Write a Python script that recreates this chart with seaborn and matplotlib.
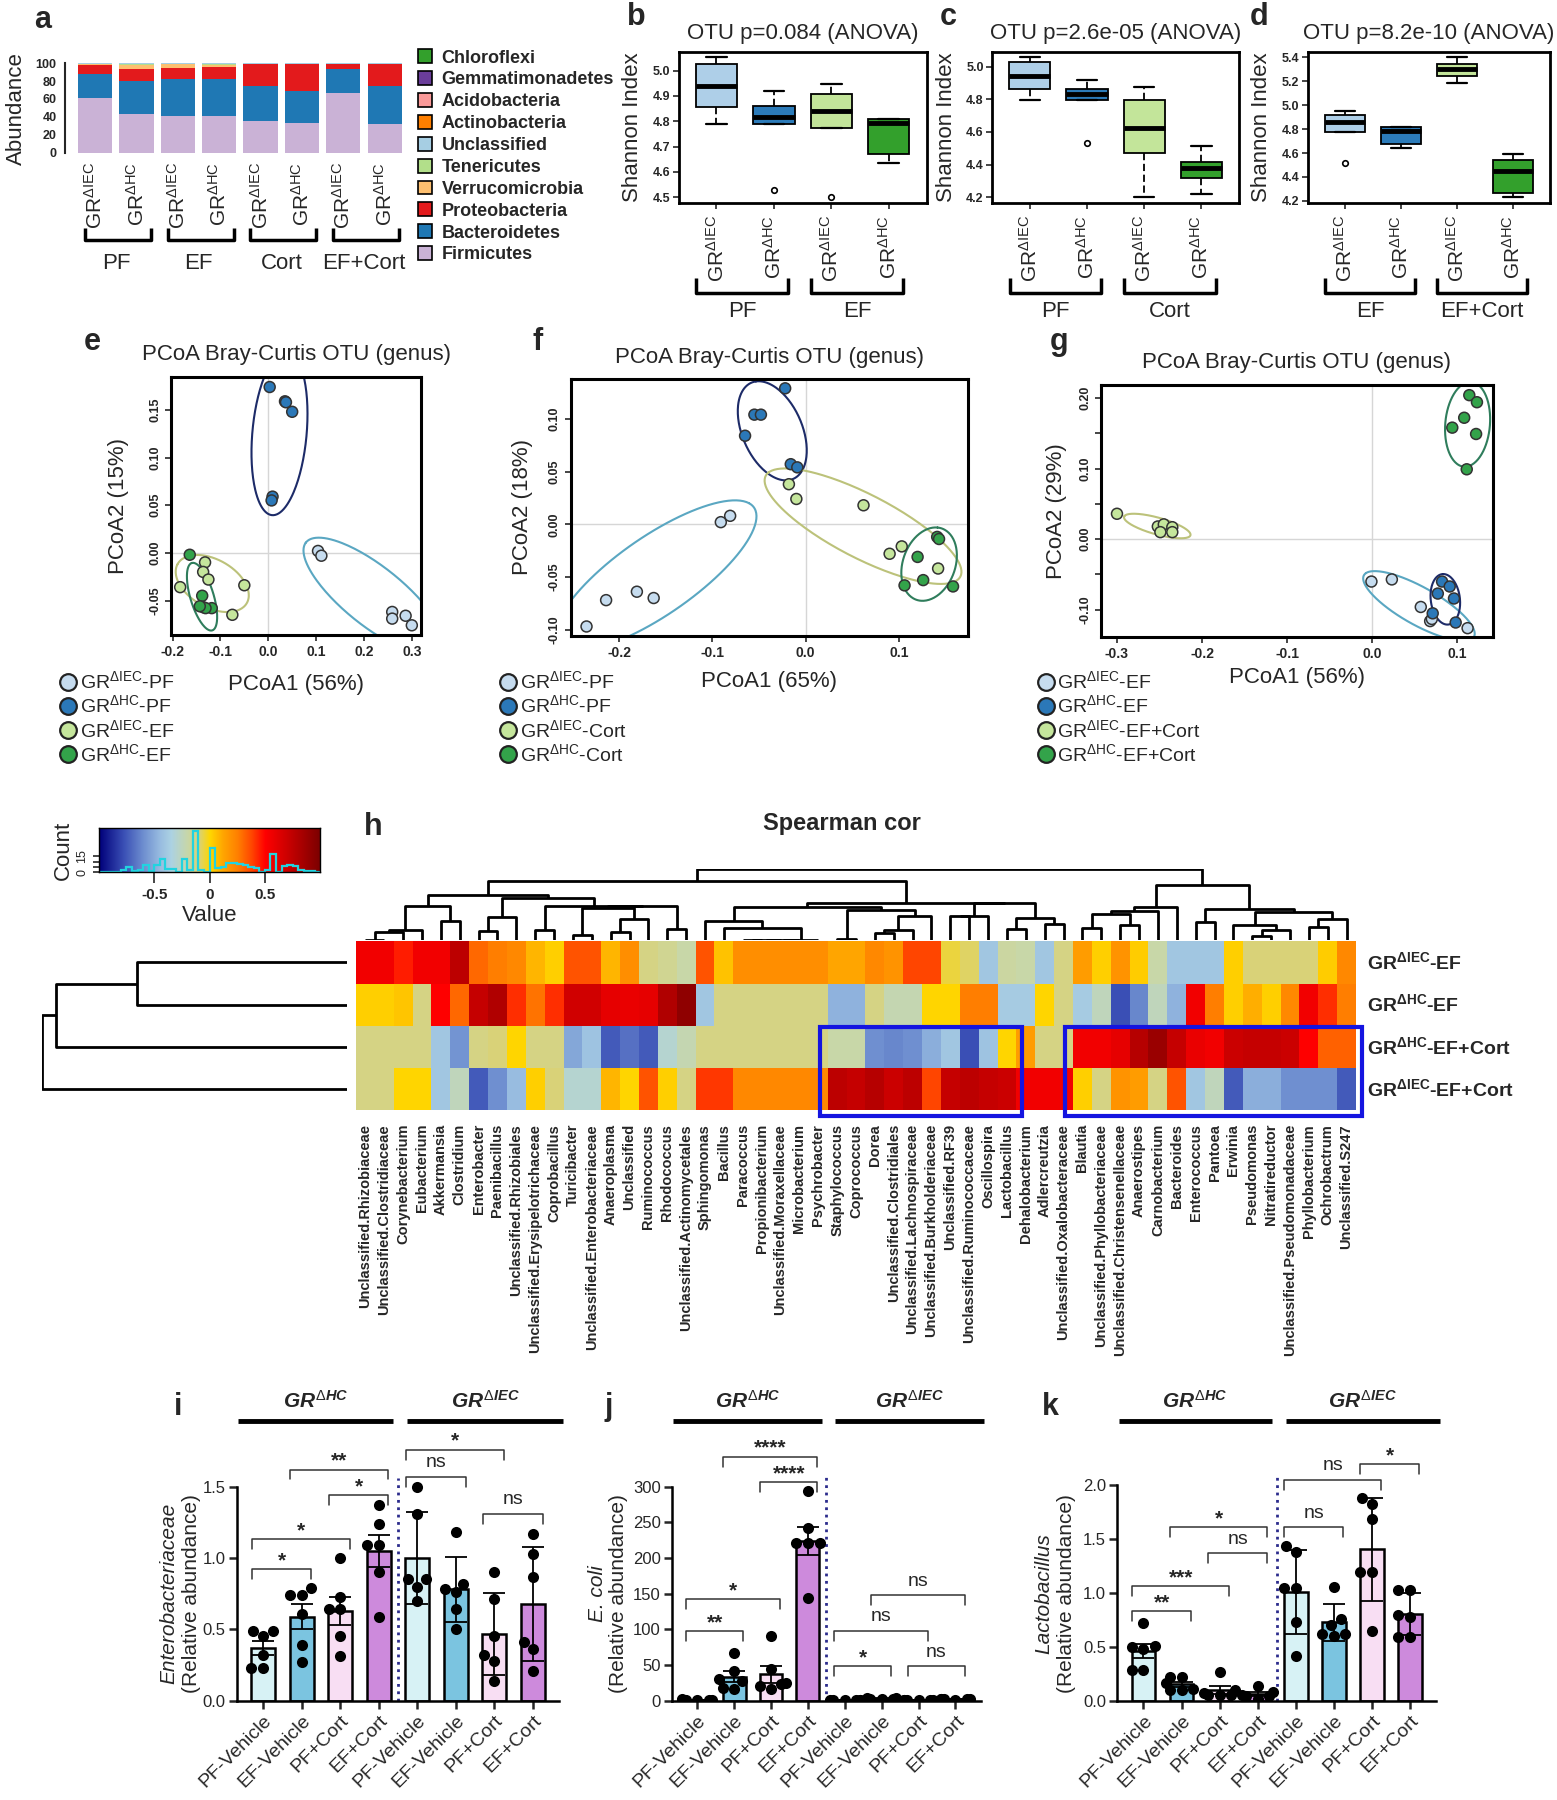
import numpy as np
import pandas as pd
import seaborn as sns
import matplotlib
matplotlib.use("Agg")
import matplotlib.pyplot as plt
import matplotlib.transforms as mtransforms
from matplotlib.colors import LinearSegmentedColormap
from matplotlib.patches import Patch, Rectangle
from matplotlib.lines import Line2D

sns.set_style("white")
plt.rcParams["font.family"] = ["Liberation Sans", "DejaVu Sans"]
plt.rcParams["mathtext.fontset"] = "custom"
plt.rcParams["mathtext.rm"] = "Liberation Sans"
plt.rcParams["mathtext.it"] = "Liberation Sans:italic:bold"
plt.rcParams["mathtext.bf"] = "Liberation Sans:bold"
plt.rcParams["axes.unicode_minus"] = False

IEC = r"GR$^{\mathrm{\Delta IEC}}$"
HC = r"GR$^{\mathrm{\Delta HC}}$"

# ---------------- data ----------------
# a: phylum abundance (%) per bar, bars = IEC/HC x PF, EF, Cort, EF+Cort
a_groups = ["PF", "EF", "Cort", "EF+Cort"]
firmicutes = [61, 43, 41, 41, 35, 33, 67, 32]
bacteroidetes = [27, 37, 41, 41, 39, 36, 26, 42]
proteobacteria = [10, 14, 13, 14, 25, 30, 6, 25]
verrucomicrobia = [0.8, 4.0, 3.5, 1.5, 0.2, 0.2, 0.2, 0.2]
tenericutes = [0.6, 1.4, 0.9, 1.9, 0.2, 0.2, 0.2, 0.2]
unclassified = [0.2] * 8
actinobacteria = [0.2] * 8
acidobacteria = [0.1] * 8
gemmatimonadetes = [0.05] * 8
chloroflexi = [0.05] * 8
phyla = ["Chloroflexi", "Gemmatimonadetes", "Acidobacteria", "Actinobacteria", "Unclassified",
         "Tenericutes", "Verrucomicrobia", "Proteobacteria", "Bacteroidetes", "Firmicutes"]
phylum_vals = [chloroflexi, gemmatimonadetes, acidobacteria, actinobacteria, unclassified,
               tenericutes, verrucomicrobia, proteobacteria, bacteroidetes, firmicutes]
phylum_cols = ["#33a02c", "#6a3d9a", "#fb9a99", "#ff7f00", "#a6cee3",
               "#b2df8a", "#fdbf6f", "#e31a1c", "#1f78b4", "#cab2d6"]

# b-d: Shannon index box stats [whislo, q1, med, q3, whishi]
b_stats = [[4.788, 4.858, 4.941, 5.026, 5.053], [4.79, 4.79, 4.818, 4.861, 4.92],
           [4.772, 4.772, 4.841, 4.907, 4.946], [4.634, 4.67, 4.792, 4.808, 4.808]]
b_out = [[], [4.529], [4.503], []]
c_stats = [[4.796, 4.861, 4.943, 5.031, 5.057], [4.796, 4.796, 4.831, 4.861, 4.918],
           [4.20, 4.473, 4.622, 4.796, 4.873], [4.22, 4.316, 4.382, 4.414, 4.514]]
c_out = [[], [4.535], [], []]
d_stats = [[4.779, 4.779, 4.857, 4.918, 4.954], [4.645, 4.676, 4.784, 4.821, 4.821],
           [5.183, 5.247, 5.303, 5.344, 5.40], [4.23, 4.269, 4.453, 4.542, 4.592]]
d_out = [[4.514], [], [], []]

# e-g: PCoA coordinates
e_x = [[0.104, 0.111, 0.259, 0.259, 0.287, 0.300],
       [0.003, 0.035, 0.050, 0.009, 0.007, 0.037],
       [-0.132, -0.136, -0.125, -0.184, -0.050, -0.075],
       [-0.164, -0.138, -0.136, -0.118, -0.131, -0.143]]
e_y = [[0.002, -0.003, -0.062, -0.069, -0.066, -0.076],
       [0.174, 0.159, 0.148, 0.059, 0.055, 0.158],
       [-0.010, -0.020, -0.028, -0.036, -0.034, -0.065],
       [-0.002, -0.045, -0.057, -0.058, -0.058, -0.056]]
f_x = [[-0.091, -0.081, -0.181, -0.163, -0.214, -0.235],
       [-0.022, -0.055, -0.048, -0.065, -0.016, -0.009],
       [-0.018, -0.010, 0.062, 0.090, 0.103, 0.142],
       [0.141, 0.120, 0.126, 0.106, 0.158, 0.143]]
f_y = [[0.002, 0.008, -0.064, -0.070, -0.072, -0.097],
       [0.129, 0.104, 0.104, 0.084, 0.057, 0.054],
       [0.038, 0.024, 0.018, -0.028, -0.021, -0.042],
       [-0.012, -0.031, -0.053, -0.058, -0.059, -0.014]]
g_x = [[-0.001, 0.023, 0.057, 0.068, 0.112, 0.070],
       [0.082, 0.091, 0.077, 0.096, 0.071, 0.098],
       [-0.300, -0.252, -0.245, -0.235, -0.249, -0.235],
       [0.114, 0.123, 0.108, 0.094, 0.122, 0.111]]
g_y = [[-0.060, -0.057, -0.096, -0.116, -0.126, -0.113],
       [-0.060, -0.067, -0.077, -0.084, -0.105, -0.118],
       [0.036, 0.018, 0.021, 0.017, 0.010, 0.010],
       [0.204, 0.194, 0.172, 0.158, 0.149, 0.099]]

# h: Spearman correlation heatmap
genera = ["Unclassified.Rhizobiaceae", "Unclassified.Clostridiaceae", "Corynebacterium", "Eubacterium",
          "Akkermansia", "Clostridium", "Enterobacter", "Paenibacillus", "Unclassified.Rhizobiales",
          "Unclassified.Erysipelotrichaceae", "Coprobacillus", "Turicibacter", "Unclassified.Enterobacteriaceae",
          "Anaeroplasma", "Unclassified", "Ruminococcus", "Rhodococcus", "Unclassified.Actinomycetales",
          "Sphingomonas", "Bacillus", "Paracoccus", "Propionibacterium", "Unclassified.Moraxellaceae",
          "Microbacterium", "Psychrobacter", "Staphylococcus", "Coprococcus", "Dorea",
          "Unclassified.Clostridiales", "Unclassified.Lachnospiraceae", "Unclassified.Burkholderiaceae",
          "Unclassified.RF39", "Unclassified.Ruminococcaceae", "Oscillospira", "Lactobacillus",
          "Dehalobacterium", "Adlercreutzia", "Unclassified.Oxalobacteraceae", "Blautia",
          "Unclassified.Phyllobacteriaceae", "Unclassified.Christensenellaceae", "Anaerostipes",
          "Carnobacterium", "Bacteroides", "Enterococcus", "Pantoea", "Erwinia", "Pseudomonas",
          "Nitratireductor", "Unclassified.Pseudomonadaceae", "Phyllobacterium", "Ochrobactrum",
          "Unclassified.S247"]
hm_rows = [r"GR$^{\mathbf{\Delta IEC}}$-EF", r"GR$^{\mathbf{\Delta HC}}$-EF",
           r"GR$^{\mathbf{\Delta HC}}$-EF+Cort", r"GR$^{\mathbf{\Delta IEC}}$-EF+Cort"]
row_iec_ef = [0.55, 0.55, 0.45, 0.55, 0.55, 0.75, 0.3, 0.25, 0.22, 0.08,
              0.02, 0.35, 0.35, 0.08, 0.2, -0.12, -0.15, -0.2, 0.35, 0.05,
              0.2, 0.2, 0.2, 0.2, 0.2, 0.12, 0.12, 0.22, 0.18, 0.38,
              0.38, -0.05, -0.08, -0.4, -0.18, -0.2, -0.4, -0.12, 0.15, 0.02,
              0.18, 0.03, -0.2, -0.4, -0.4, -0.4, 0.02, -0.1, -0.1, -0.1,
              -0.1, 0.03, 0.22]
row_hc_ef = [0.02, 0.02, 0.04, -0.12, 0.5, 0.3, 0.72, 0.8, 0.42, 0.28,
             0.42, 0.68, 0.68, 0.6, 0.58, 0.6, 0.8, 0.92, -0.4, -0.12,
             -0.12, -0.12, -0.12, -0.12, -0.12, -0.48, -0.48, -0.12, -0.22, -0.22,
             0.0, 0.0, 0.25, 0.25, -0.38, -0.38, 0.0, -0.12, -0.38, -0.25,
             -0.78, -0.62, -0.25, -0.48, 0.55, 0.25, 0.02, 0.1, 0.02, 0.22,
             0.55, 0.42, 0.25]
row_hc_efcort = [-0.12, -0.12, -0.12, -0.12, -0.4, -0.58, -0.12, -0.1, 0.0, -0.12,
                 -0.12, -0.52, -0.42, -0.75, -0.68, -0.75, -0.3, -0.22, -0.12, -0.12,
                 -0.12, -0.12, -0.12, -0.12, -0.12, -0.2, -0.2, -0.6, -0.62, -0.6,
                 -0.5, -0.4, -0.78, -0.42, 0.0, 0.15, -0.12, -0.12, 0.55, 0.55,
                 0.6, 0.78, 0.88, 0.72, 0.58, 0.55, 0.7, 0.72, 0.72, 0.7,
                 0.5, 0.32, 0.32]
row_iec_efcort = [-0.12, -0.12, 0.0, 0.0, -0.4, -0.25, -0.75, -0.6, -0.45, 0.02,
                  -0.1, -0.3, -0.3, 0.08, 0.0, 0.35, 0.02, -0.12, 0.4, 0.4,
                  0.22, 0.22, 0.22, 0.22, 0.22, 0.75, 0.72, 0.78, 0.7, 0.75,
                  0.38, 0.72, 0.75, 0.72, 0.7, 0.55, 0.55, 0.55, 0.02, -0.12,
                  0.18, 0.15, -0.12, 0.35, -0.4, -0.25, -0.75, -0.5, -0.5, -0.6,
                  -0.6, -0.6, -0.75]
hm_boxes = [("Staphylococcus", "Lactobacillus"), ("Blautia", "Unclassified.S247")]

# i-k: relative abundance per mouse
bar_groups = ["PF-Vehicle", "EF-Vehicle", "PF+Cort", "EF+Cort"]
bar_cols = ["#d2f6fa", "#6acbf1", "#fcdaf5", "#d67cea"]
i_hc = [[0.49, 0.49, 0.45, 0.32, 0.23, 0.23], [0.79, 0.74, 0.74, 0.61, 0.27, 0.39],
        [1.00, 0.73, 0.64, 0.64, 0.45, 0.31], [1.37, 1.24, 1.09, 1.09, 0.90, 0.59]]
i_iec = [[1.50, 1.31, 0.85, 0.85, 0.80, 0.70], [1.18, 0.82, 0.78, 0.76, 0.64, 0.50],
         [0.90, 0.71, 0.45, 0.32, 0.28, 0.14], [1.17, 1.03, 0.87, 0.41, 0.36, 0.21]]
j_hc = [[1.5, 0.8, 1.2, 2.0, 0.6, 1.0], [67, 42, 30, 27, 16, 18],
        [91, 45, 25, 24, 16, 21], [294, 242, 221, 221, 221, 144]]
j_iec = [[1.0, 0.6, 1.2, 0.8, 1.4, 0.9], [3.2, 2.1, 2.8, 1.9, 3.5, 2.4],
         [1.1, 0.7, 1.3, 0.9, 1.0, 0.8], [2.2, 1.8, 2.6, 1.6, 2.0, 2.3]]
k_hc = [[0.72, 0.51, 0.50, 0.48, 0.28, 0.28], [0.22, 0.22, 0.16, 0.11, 0.10, 0.10],
        [0.27, 0.10, 0.07, 0.05, 0.05, 0.05], [0.14, 0.08, 0.05, 0.04, 0.04, 0.02]]
k_iec = [[1.43, 1.38, 1.04, 1.04, 0.73, 0.41], [1.05, 0.76, 0.70, 0.62, 0.62, 0.60],
         [1.88, 1.82, 1.68, 1.19, 1.19, 0.65], [1.03, 1.03, 0.79, 0.78, 0.59, 0.59]]
i_sig = [(0, 1, 0.92, "*"), (0, 2, 1.13, "*"), (2, 3, 1.44, "*"), (1, 3, 1.62, "**"),
         (4, 5, 1.57, "ns"), (4, 6, 1.76, "*"), (6, 7, 1.31, "ns")]
j_sig = [(0, 1, 97, "**"), (0, 2, 142, "*"), (2, 3, 306, "****"), (1, 3, 342, "****"),
         (4, 5, 48, "*"), (6, 7, 48, "ns"), (4, 6, 98, "ns"), (5, 7, 148, "ns")]
k_sig = [(0, 1, 0.83, "**"), (0, 2, 1.06, "***"), (2, 3, 1.37, "ns"), (1, 3, 1.61, "*"),
         (4, 5, 1.61, "ns"), (4, 6, 2.05, "ns"), (6, 7, 2.19, "*")]

# ---------------- layout helpers (px of a 1356x1568 canvas) ----------------
W, H = 1356.0, 1568.0
fig = plt.figure(figsize=(15.57, 18), dpi=100)


def panel(x0, y0, x1, y1):
    return fig.add_axes([x0 / W, 1 - y1 / H, (x1 - x0) / W, (y1 - y0) / H])


def ftext(x, y, s, **kw):
    kw.setdefault("ha", "center")
    kw.setdefault("va", "center")
    return fig.text(x / W, 1 - y / H, s, **kw)


def bracket(ax, x0, x1, y, dy, lw):
    tr = mtransforms.blended_transform_factory(ax.transData, ax.transAxes)
    ax.plot([x0, x0, x1, x1], [y + dy, y, y, y + dy], transform=tr, color="k",
            lw=lw, clip_on=False, solid_capstyle="butt")


for s, x, y in [("a", 37, 17), ("b", 554, 15), ("c", 826, 15), ("d", 1097, 15),
                ("e", 80, 298), ("f", 468, 298), ("g", 922, 298), ("h", 325, 720),
                ("i", 155, 1226), ("j", 530, 1226), ("k", 915, 1226)]:
    ftext(x, y, s, fontsize=22, fontweight="bold")

# ---------------- a ----------------
ax = panel(65, 55, 353, 133)
xs = np.arange(8)
bottom = np.zeros(8)
for name, vals, col in zip(phyla[::-1], phylum_vals[::-1], phylum_cols[::-1]):
    ax.bar(xs, vals, 0.83, bottom=bottom, color=col, edgecolor="none")
    bottom += np.array(vals)
ax.set_xlim(-0.5, 7.5)
ax.set_ylim(0, 100)
sns.despine(ax=ax, bottom=True)
ax.spines["left"].set_position(("outward", 7))
ax.spines["left"].set_linewidth(1.5)
ax.set_yticks(range(0, 101, 20))
ax.set_yticklabels([str(v) for v in range(0, 101, 20)], fontsize=9, fontweight="bold")
ax.tick_params(axis="y", length=4, width=1.3, pad=2)
ax.set_xticks(xs)
ax.set_xticklabels([IEC, HC] * 4, rotation=90, fontsize=15)
ax.tick_params(axis="x", length=0, pad=7)
for k, g in enumerate(a_groups):
    bracket(ax, 2 * k - 0.25, 2 * k + 1.35, -0.97, 0.13, 2.5)
    tr = mtransforms.blended_transform_factory(ax.transData, ax.transAxes)
    ax.text(2 * k + 0.5, -1.24, g, transform=tr, ha="center", va="center", fontsize=16)
ftext(14, 95, "Abundance", rotation=90, fontsize=16)
handles = [Patch(facecolor=c, edgecolor="k", lw=1.2) for c in phylum_cols]
fig.legend(handles, phyla, loc="upper left", bbox_to_anchor=(364 / W, 1 - 43 / H),
           frameon=False, prop={"weight": "bold", "size": 13}, handlelength=0.8,
           handleheight=0.8, handletextpad=0.5, labelspacing=0.26, borderpad=0,
           borderaxespad=0)

# ---------------- b-d ----------------
box_cols = ["#aecfe8", "#2c7bb9", "#c3e59a", "#33a02c"]


def shannon(rect, stats, outs, ylim, yticks, ylabs, title, groups):
    ax = panel(*rect)
    bx = [dict(whislo=s[0], q1=s[1], med=s[2], q3=s[3], whishi=s[4], fliers=o)
          for s, o in zip(stats, outs)]
    art = ax.bxp(bx, positions=range(4), widths=0.72, patch_artist=True,
                 boxprops=dict(edgecolor="k", lw=1.3),
                 medianprops=dict(color="k", lw=3.5, solid_capstyle="butt"),
                 whiskerprops=dict(color="k", lw=1.3, ls=(0, (4, 2))),
                 capprops=dict(color="k", lw=1.6),
                 flierprops=dict(marker="o", mfc="none", mec="k", ms=4, mew=1.2))
    for p, c in zip(art["boxes"], box_cols):
        p.set_facecolor(c)
    ax.set_xlim(-0.66, 3.66)
    ax.set_ylim(*ylim)
    ax.set_yticks(yticks)
    ax.set_yticklabels(ylabs, fontsize=9, fontweight="bold")
    ax.set_xticks(range(4))
    ax.set_xticklabels([IEC, HC] * 2, rotation=90, fontsize=15)
    ax.tick_params(axis="both", length=4, width=1.2, pad=2, left=True, bottom=True)
    ax.tick_params(axis="x", pad=5)
    for sp in ax.spines.values():
        sp.set_linewidth(2)
        sp.set_color("k")
    for k, g in enumerate(groups):
        bracket(ax, 2 * k - 0.35, 2 * k + 1.25, -0.6, 0.1, 2.5)
        tr = mtransforms.blended_transform_factory(ax.transData, ax.transAxes)
        ax.text(2 * k + 0.45, -0.72, g, transform=tr, ha="center", va="center", fontsize=16)
    ftext((rect[0] + rect[2]) / 2, 29, title, fontsize=16)
    ftext(rect[0] - 40, 111, "Shannon Index", rotation=90, fontsize=16)


shannon((591, 45, 807, 176.5), b_stats, b_out, (4.479, 5.075), [4.5, 4.6, 4.7, 4.8, 4.9, 5.0],
        ["4.5", "4.6", "4.7", "4.8", "4.9", "5.0"], "OTU p=0.084 (ANOVA)", ["PF", "EF"])
shannon((864, 45, 1079, 176.5), c_stats, c_out, (4.167, 5.092), [4.2, 4.4, 4.6, 4.8, 5.0],
        ["4.2", "4.4", "4.6", "4.8", "5.0"], "OTU p=2.6e-05 (ANOVA)", ["PF", "Cort"])
shannon((1139, 45, 1350, 176.5), d_stats, d_out, (4.186, 5.447), [4.2, 4.4, 4.6, 4.8, 5.0, 5.2, 5.4],
        ["4.2", "4.4", "4.6", "4.8", "5.0", "5.2", "5.4"], "OTU p=8.2e-10 (ANOVA)", ["EF", "EF+Cort"])

# ---------------- e-g ----------------
pt_cols = ["#c6dcef", "#2b78b8", "#c5e69c", "#33a34a"]
ell_cols = ["#5aa7c2", "#1d2b68", "#bcc27a", "#2f7d5c"]


def pcoa(rect, xs, ys, labels, xlim, ylim, xticks, xlabs, yticks, ylabs, xlab, ylab, xy_lab, leg_xy):
    ax = panel(*rect)
    rows = []
    for lab, xv, yv in zip(labels, xs, ys):
        rows += [(lab, a, b) for a, b in zip(xv, yv)]
    df = pd.DataFrame(rows, columns=["grp", "x", "y"])
    ax.axhline(0, color="#d6d6d6", lw=1, zorder=0)
    ax.axvline(0, color="#d6d6d6", lw=1, zorder=0)
    # spread ellipse per group, worked out in panel-scaled units
    sx = xlim[1] - xlim[0]
    sy = ylim[1] - ylim[0]
    for xv, yv, ec in zip(xs, ys, ell_cols):
        u = np.array(xv) / sx
        v = np.array(yv) / sy
        vals, vecs = np.linalg.eigh(np.cov(u, v))
        major = 1.6 * np.sqrt(vals[1])
        minor = max(1.6 * np.sqrt(vals[0]), 0.34 * major)
        t = np.linspace(0, 2 * np.pi, 200)
        pts = (vecs[:, 1][:, None] * major * np.cos(t) + vecs[:, 0][:, None] * minor * np.sin(t))
        ax.plot(u.mean() * sx + pts[0] * sx, v.mean() * sy + pts[1] * sy, color=ec, lw=1.5, zorder=2)
    sns.scatterplot(data=df, x="x", y="y", hue="grp", hue_order=labels, palette=pt_cols,
                    s=62, edgecolor="#333333", linewidth=1.1, legend=False, ax=ax, zorder=3)
    ax.set_xlim(*xlim)
    ax.set_ylim(*ylim)
    ax.set_xticks(xticks)
    ax.set_xticklabels(xlabs, fontsize=10, fontweight="bold")
    ax.set_yticks(yticks)
    ax.set_yticklabels(ylabs, fontsize=9, fontweight="bold", rotation=90, va="center")
    ax.tick_params(axis="both", length=4, width=1.2, pad=3, left=True, bottom=True)
    ax.set_xlabel("")
    ax.set_ylabel("")
    for sp in ax.spines.values():
        sp.set_linewidth(2.2)
        sp.set_color("k")
    cx = (rect[0] + rect[2]) / 2
    ftext(cx, rect[1] - 19, "PCoA Bray-Curtis OTU (genus)", fontsize=16)
    ftext(cx, xy_lab[1], xlab, fontsize=16)
    ftext(xy_lab[0], (rect[1] + rect[3]) / 2, ylab, rotation=90, fontsize=16)
    hs = [Line2D([], [], marker="o", ls="none", mfc=c, mec="#222222", ms=12, mew=1.6) for c in pt_cols]
    fig.legend(hs, labels, loc="upper left", bbox_to_anchor=(leg_xy[0] / W, 1 - leg_xy[1] / H),
               frameon=False, fontsize=14, handlelength=0.9, handletextpad=0.15,
               labelspacing=0.12, borderpad=0, borderaxespad=0)


pcoa((149, 328, 367, 553), e_x, e_y, [IEC + "-PF", HC + "-PF", IEC + "-EF", HC + "-EF"],
     (-0.203, 0.32), (-0.086, 0.185), [-0.2, -0.1, 0.0, 0.1, 0.2, 0.3],
     ["-0.2", "-0.1", "0.0", "0.1", "0.2", "0.3"], [-0.05, 0.0, 0.05, 0.10, 0.15],
     ["-0.05", "0.00", "0.05", "0.10", "0.15"], "PCoA1 (56%)", "PCoA2 (15%)", (103, 596), (52, 584))
pcoa((497, 330, 843, 554), f_x, f_y, [IEC + "-PF", HC + "-PF", IEC + "-Cort", HC + "-Cort"],
     (-0.252, 0.174), (-0.106, 0.138), [-0.2, -0.1, 0.0, 0.1], ["-0.2", "-0.1", "0.0", "0.1"],
     [-0.10, -0.05, 0.0, 0.05, 0.10], ["-0.10", "-0.05", "0.00", "0.05", "0.10"],
     "PCoA1 (65%)", "PCoA2 (18%)", (455, 594), (435, 584))
pcoa((959, 335, 1300, 555), g_x, g_y, [IEC + "-EF", HC + "-EF", IEC + "-EF+Cort", HC + "-EF+Cort"],
     (-0.3186, 0.1415), (-0.1387, 0.219), [-0.3, -0.2, -0.1, 0.0, 0.1],
     ["-0.3", "-0.2", "-0.1", "0.0", "0.1"], [-0.10, -0.05, 0.0, 0.05, 0.10, 0.15, 0.20],
     ["-0.10", "", "0.00", "", "0.10", "", "0.20"], "PCoA1 (56%)", "PCoA2 (29%)", (920, 590), (903, 584))

# ---------------- h: heatmap ----------------
mat = np.array([row_iec_ef, row_hc_ef, row_hc_efcort, row_iec_efcort])
cmap = LinearSegmentedColormap.from_list("spear", [
    (0.0, "#00007a"), (0.11, "#3a4fb5"), (0.2, "#6f8fd0"), (0.275, "#98bce0"),
    (0.325, "#acd2e3"), (0.4, "#c8d7a8"), (0.45, "#d8d27a"), (0.5, "#ffd700"),
    (0.56, "#ffa500"), (0.625, "#ff8000"), (0.69, "#ff4500"), (0.75, "#ff0000"),
    (0.85, "#cc0000"), (1.0, "#7a0000")])


def chain_tree(X):
    # join neighbouring clusters (keeps drawn order) by mean euclidean distance
    D = np.sqrt(((X[:, None, :] - X[None, :, :]) ** 2).sum(-1))
    members = [[i] for i in range(len(X))]
    pos = [i + 0.5 for i in range(len(X))]
    hgt = [0.0] * len(X)
    links = []
    while len(members) > 1:
        d = [D[np.ix_(members[q], members[q + 1])].mean() for q in range(len(members) - 1)]
        q = int(np.argmin(d))
        h = max(d[q], hgt[q], hgt[q + 1]) * 1.0001
        links.append((pos[q], hgt[q], pos[q + 1], hgt[q + 1], h))
        members[q] = members[q] + members.pop(q + 1)
        pos[q] = (pos[q] + pos.pop(q + 1)) / 2
        hgt[q] = h
        hgt.pop(q + 1)
    return links


axh = panel(310, 820, 1181, 967)
sns.heatmap(pd.DataFrame(mat, index=hm_rows, columns=genera), cmap=cmap, vmin=-1, vmax=1,
            cbar=False, ax=axh, xticklabels=True, yticklabels=True)
axh.set_xticklabels(genera, rotation=90, fontsize=10.5, fontweight="bold")
axh.yaxis.tick_right()
axh.set_yticklabels(hm_rows, rotation=0, fontsize=14, fontweight="bold", va="center")
axh.tick_params(axis="both", length=0)
axh.tick_params(axis="x", pad=10)
axh.tick_params(axis="y", pad=8)
axh.set_xlabel("")
axh.set_ylabel("")
for g0, g1 in hm_boxes:
    c0, c1 = genera.index(g0), genera.index(g1) + 1
    axh.add_patch(Rectangle((c0 - 0.4, 2.04), c1 - c0 + 0.7, 2.1, fill=False, ec="#1414e0",
                            lw=3, clip_on=False, zorder=5))

axc = panel(310, 757, 1181, 819)
links = chain_tree(mat.T)
for x1, h1, x2, h2, h in links:
    axc.plot([x1, x1, x2, x2], [h1, h, h, h2], color="k", lw=2, solid_capstyle="butt")
axc.set_xlim(0, len(genera))
axc.set_ylim(0, links[-1][4])
axc.axis("off")

axr = panel(37, 820, 302, 967)
links = chain_tree(mat)
for y1, h1, y2, h2, h in links:
    axr.plot([h1, h, h, h2], [y1, y1, y2, y2], color="k", lw=2, solid_capstyle="butt")
axr.set_ylim(len(hm_rows), 0)
axr.set_xlim(links[-1][4] * 1.0, 0)
axr.axis("off")

ftext(733, 717, "Spearman cor", fontsize=17, fontweight="bold")

axk = panel(86, 721, 279, 760)
counts, edges = np.histogram(mat.ravel(), bins=np.linspace(-1, 1, 41))
cmax = counts.max() * 1.08
axk.imshow(np.linspace(-1, 1, 256)[None, :], extent=(-1, 1, 0, cmax), aspect="auto",
           cmap=cmap, vmin=-1, vmax=1)
axk.stairs(counts, edges, color="#22d3e0", lw=1.6)
axk.set_xlim(-1, 1)
axk.set_ylim(0, cmax)
axk.set_xticks([-0.5, 0, 0.5])
axk.set_xticklabels(["-0.5", "0", "0.5"], fontsize=11, fontweight="bold")
axk.set_yticks([0, 5, 10, 15])
axk.set_yticklabels(["0", "", "", "15"], fontsize=9, rotation=90, va="center")
axk.tick_params(axis="x", length=8, width=1.2, bottom=True)
axk.tick_params(axis="y", length=4, width=1.2, left=True)
axk.set_xlabel("Value", fontsize=16, labelpad=2)
axk.set_ylabel("Count", fontsize=16, labelpad=2)
for sp in axk.spines.values():
    sp.set_linewidth(1)
    sp.set_color("k")

# ---------------- i-k ----------------
cats = ["HC " + g for g in bar_groups] + ["IEC " + g for g in bar_groups]


def bar_panel(rect, hc, iec, ytop, yticks, ylabs, sig, dy, sep_top, name, xrel):
    ax = panel(*rect)
    rows = []
    for c, vals in zip(cats, hc + iec):
        rows += [(c, v) for v in vals]
    df = pd.DataFrame(rows, columns=["grp", "val"])
    sns.barplot(data=df, x="grp", y="val", order=cats, hue="grp", hue_order=cats,
                palette=bar_cols * 2, errorbar=None, width=0.62, edgecolor="k",
                linewidth=1.8, legend=False, ax=ax)
    st = df.groupby("grp", sort=False)["val"].agg(["mean", "std", "count"]).loc[cats]
    # SEM for GR-dHC groups, SD for GR-dIEC groups
    err = np.where(np.arange(8) < 4, st["std"] / np.sqrt(st["count"]), st["std"])
    ax.errorbar(np.arange(8), st["mean"], yerr=err, fmt="none", ecolor="k", elinewidth=1.3,
                capsize=8, capthick=1.3, zorder=4)
    sns.swarmplot(data=df, x="grp", y="val", order=cats, color="k", size=8, ax=ax, zorder=5)
    ax.set_xlim(-0.69, 7.68)
    ax.set_ylim(0, ytop)
    sns.despine(ax=ax)
    ax.spines["left"].set_bounds(0, yticks[-1])
    for sp in ("left", "bottom"):
        ax.spines[sp].set_linewidth(1.8)
        ax.spines[sp].set_color("k")
    ax.set_yticks(yticks)
    ax.set_yticklabels(ylabs, fontsize=12)
    ax.set_xticks(range(8))
    ax.set_xticklabels(bar_groups * 2, rotation=45, ha="right", rotation_mode="anchor", fontsize=14)
    ax.tick_params(axis="both", length=6, width=1.8, left=True, bottom=True, pad=2)
    ax.set_xlabel("")
    ax.set_ylabel("")
    ax.plot([3.5, 3.5], [0, sep_top], ls=":", color="#2b2b8c", lw=2, zorder=1)
    for a, b, y, t in sig:
        ax.plot([a - 0.3, a - 0.3, b + 0.25, b + 0.25], [y - dy, y, y, y - dy], color="#333333",
                lw=1.1, clip_on=False)
        off = 6 if t.startswith("*") else 10
        ax.annotate(t, ((a + b) / 2 - 0.02, y), xytext=(0, off), textcoords="offset points",
                    ha="center", va="center", fontsize=15 if t.startswith("*") else 14,
                    fontweight="bold" if t.startswith("*") else "normal", annotation_clip=False)
    tr = mtransforms.blended_transform_factory(ax.transData, ax.transAxes)
    for x0, x1, lab in [(-0.65, 3.37, r"$GR^{\Delta HC}$"), (3.74, 7.78, r"$GR^{\Delta IEC}$")]:
        ax.plot([x0, x1], [0.89, 0.89], color="k", lw=3.5, transform=tr, clip_on=False,
                solid_capstyle="butt")
        ax.text((x0 + x1) / 2, 0.955, lab, transform=tr, ha="center", va="center", fontsize=15)
    ftext(xrel[0], 1388, name, rotation=90, fontsize=15, fontstyle="italic")
    ftext(xrel[1], 1388, "(Relative abundance)", rotation=90, fontsize=15)


bar_panel((206, 1208, 487, 1481.5), i_hc, i_iec, 2.2, [0, 0.5, 1.0, 1.5], ["0.0", "0.5", "1.0", "1.5"],
          i_sig, 0.07, 1.56, "Enterobacteriaceae", (147, 167))
bar_panel((585, 1208, 854, 1481.5), j_hc, j_iec, 440, [0, 50, 100, 150, 200, 250, 300],
          ["0", "50", "100", "150", "200", "250", "300"], j_sig, 14, 315, "E. coli", (520, 539))
bar_panel((973, 1208, 1250.5, 1481.5), k_hc, k_iec, 2.91, [0, 0.5, 1.0, 1.5, 2.0],
          ["0.0", "0.5", "1.0", "1.5", "2.0"], k_sig, 0.093, 2.08, "Lactobacillus", (909, 929))

fig.savefig("out.png", dpi=100, facecolor="white")
